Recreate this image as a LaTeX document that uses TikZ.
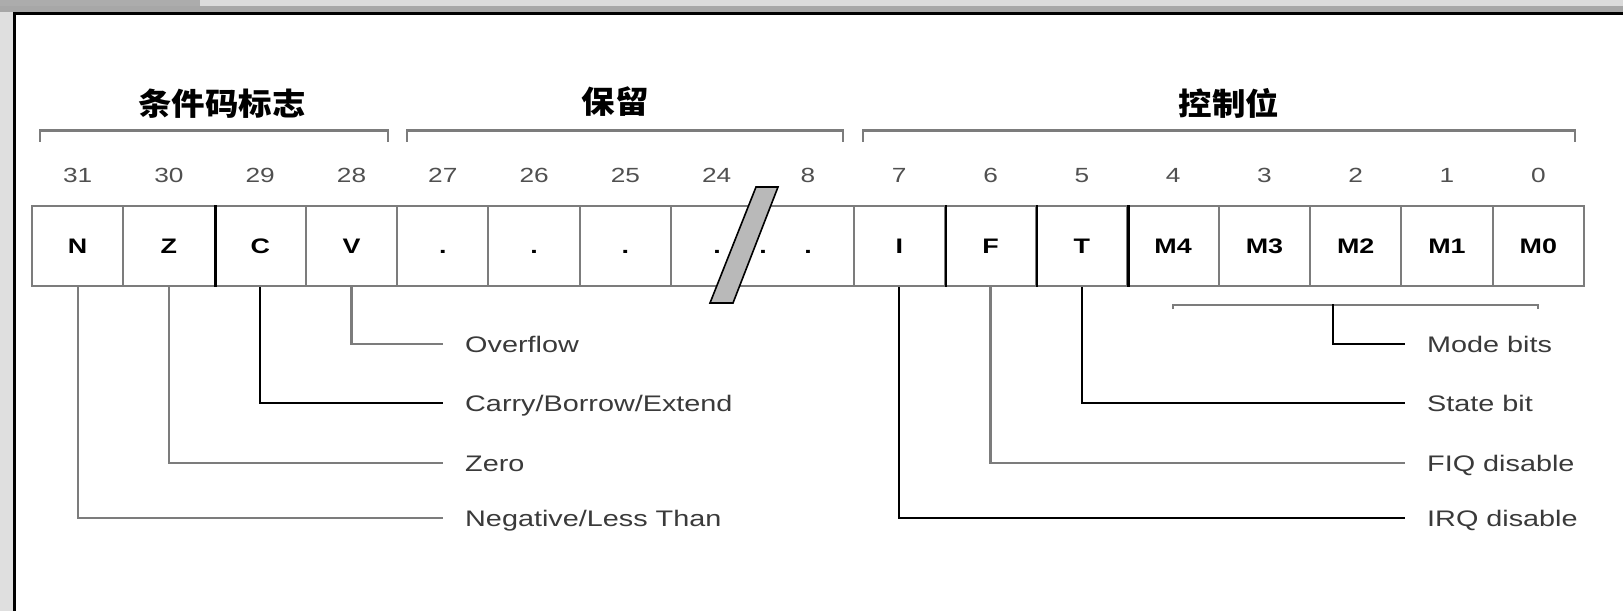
\documentclass[tikz,border=0pt]{standalone}
\usepackage{fontspec}
\setmainfont{Liberation Sans}[FakeStretch=1.28]
\newfontfamily\cjk{Noto Sans CJK SC}[FakeStretch=1.08]
\usetikzlibrary{calc}
\definecolor{lgray}{HTML}{7C7C7C}
\definecolor{tgray}{HTML}{3A3A3A}
\definecolor{ngray}{HTML}{505050}
\tikzset{
  cell/.style={draw=lgray, line width=2pt, fill=white, minimum width=91.29pt, minimum height=80pt,
    inner sep=0pt, text height=15pt, text depth=0pt, font=\fontsize{21}{24}\selectfont\bfseries},
  bitnum/.style={inner sep=0pt, text height=15pt, text depth=0pt, text=ngray, font=\fontsize{20.5}{24}\selectfont},
  title/.style={inner sep=0pt, font=\cjk\bfseries\fontsize{31}{34}\selectfont},
  desc/.style={inner xsep=22pt, inner ysep=0pt, text height=16pt, text depth=0pt, anchor=west, text=tgray,
    font=\fontsize{22.5}{26}\selectfont},
  brk/.style={draw=lgray, line width=2.2pt},
  conn/.style={draw=lgray, line width=2.2pt},
  connk/.style={draw=black, line width=2.4pt},
  dotlbl/.style={inner sep=0pt, text height=15pt, text depth=0pt, font=\fontsize{21}{24}\selectfont\bfseries}
}
\begin{document}
\begin{tikzpicture}[x=1pt, y=-1pt]
\useasboundingbox (0,0) rectangle (1623,611);
\fill[white] (0,0) rectangle (1623,611);
% window frame
\fill[gray!28] (0,0) rectangle (1623,6);
\fill[gray!65] (0,0) rectangle (200,6);
\fill[gray!85!black!60] (0,6) rectangle (1623,12);
\fill[gray!25] (0,12) rectangle (12.5,611);
\fill[black] (12.5,12) rectangle (1623,14.5);
\fill[black] (12.5,12) rectangle (16,611);

% titles
\node[title] (t1) at (222,104) {条件码标志};
\node[title] (t2) at (615,102) {保留};
\node[title] (t3) at (1229,103) {控制位};

% brackets
\coordinate (b1a) at (40,130.5);  \coordinate (b1b) at (388,130.5);
\coordinate (b2a) at (407,130.5); \coordinate (b2b) at (843,130.5);
\coordinate (b3a) at (863,130.5); \coordinate (b3b) at (1575,130.5);
\draw[brk] ($(b1a)+(0,11)$) -- (b1a) -- (b1b) -- ($(b1b)+(0,11)$);
\draw[brk] ($(b2a)+(0,11)$) -- (b2a) -- (b2b) -- ($(b2b)+(0,11)$);
\draw[brk] ($(b3a)+(0,11)$) -- (b3a) -- (b3b) -- ($(b3b)+(0,11)$);

% bit numbers
\foreach \n/\i in {31/0,30/1,29/2,28/3,27/4,26/5,25/6,24/7,8/8,7/9,6/10,5/11,4/12,3/13,2/14,1/15,0/16}{
  \node[bitnum] (n\n) at ({32+(\i+0.5)*91.29},175) {\n};
}

% cells
\foreach \nm/\lb/\i in {N/N/0,Z/Z/1,C/C/2,V/V/3,27/./4,26/./5,25/./6,I/I/9,F/F/10,T/T/11,M4/M4/12,M3/M3/13,M2/M2/14,M1/M1/15,M0/M0/16}{
  \node[cell] (c\nm) at ({32+(\i+0.5)*91.29},246) {\lb};
}
\node[cell, minimum width=182.58pt] (c24) at ({32+8*91.29},246) {};
\node[dotlbl] (d1) at (717,246) {.};
\node[dotlbl] (d2) at (763,246) {.};
\node[dotlbl] (d3) at (808,246) {.};
% darker dividers
\draw[black, line width=2.4pt] (cZ.north east) -- (cZ.south east);
\draw[black, line width=2.4pt] (cI.north east) -- (cI.south east);
\draw[black, line width=2.4pt] (cF.north east) -- (cF.south east);
\draw[black, line width=2.4pt] (cT.north east) -- (cT.south east);

% break slash
\draw[fill=gray!55, line width=1.6pt, line join=miter] (756,187) -- (778,187) -- (733,303) -- (710,303) -- cycle;

% descriptions left
\node[desc] (lov) at (443,344) {Overflow};
\node[desc] (lcy) at (443,403) {Carry/Borrow/Extend};
\node[desc] (lze) at (443,463) {Zero};
\node[desc] (lng) at (443,518) {Negative/Less Than};
% descriptions right
\node[desc] (lmd) at (1405,344) {Mode bits};
\node[desc] (lst) at (1405,403) {State bit};
\node[desc] (lfq) at (1405,463) {FIQ disable};
\node[desc] (liq) at (1405,518) {IRQ disable};

% connectors left
\draw[conn] (cV.south) |- (lov.west);
\draw[connk] (cC.south) |- (lcy.west);
\draw[conn] (cZ.south) |- (lze.west);
\draw[conn] (cN.south) |- (lng.west);

% mode bracket
\coordinate (ma) at ($(cM4.south)+(0,18)$);
\coordinate (mb) at ($(cM0.south)+(0,18)$);
\coordinate (ms) at (1333,304);
\draw[brk] ($(ma)+(0,4)$) -- (ma) -- (mb) -- ($(mb)+(0,4)$);
\draw[connk] (ms) |- (lmd.west);
\draw[connk] (cT.south) |- (lst.west);
\draw[conn] (cF.south) |- (lfq.west);
\draw[connk] (cI.south) |- (liq.west);
\end{tikzpicture}
\end{document}
